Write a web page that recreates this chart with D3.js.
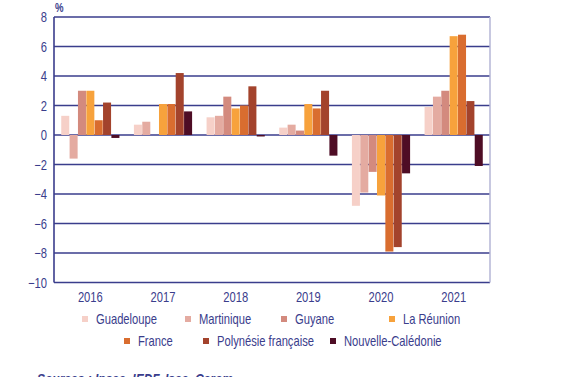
<!DOCTYPE html>
<html>
<head>
<meta charset="utf-8">
<script src="https://cdn.jsdelivr.net/npm/d3@7"></script>
<style>
  body { margin: 0; background: #fff; }
  svg { display: block; }
</style>
</head>
<body>
<div id="chart"></div>
<script>
const years = ["2016", "2017", "2018", "2019", "2020", "2021"];
const seriesNames = ["Guadeloupe", "Martinique", "Guyane", "La Réunion", "France", "Polynésie française", "Nouvelle-Calédonie"];
const guadeloupe = [1.3, 0.7, 1.2, 0.5, -4.8, 1.9];
const martinique = [-1.6, 0.9, 1.3, 0.7, -3.9, 2.6];
const guyane = [3.0, 0.0, 2.6, 0.3, -2.5, 3.0];
const reunion = [3.0, 2.1, 1.8, 2.1, -4.1, 6.7];
const france = [1.0, 2.1, 2.0, 1.8, -7.9, 6.8];
const polynesie = [2.2, 4.2, 3.3, 3.0, -7.6, 2.3];
const caledonie = [-0.2, 1.6, -0.1, -1.4, -2.6, -2.1];
const yTicks = [8, 6, 4, 2, 0, -2, -4, -6, -8, -10];
const colors = ["#f6d0c8", "#e4aba1", "#d38a7e", "#f7a23c", "#d96d2f", "#a3432c", "#4e0d25"];

const values = [guadeloupe, martinique, guyane, reunion, france, polynesie, caledonie];
const data = [];
years.forEach(function (y, i) {
    seriesNames.forEach(function (s, j) {
        data.push({ year: y, series: s, value: values[j][i] });
    });
});

const width = 565, height = 377;
const navy = "#3a3d8c";
const font = "'Liberation Sans', Arial, sans-serif";
const squeeze = 0.8;

const svg = d3.select("#chart").append("svg")
    .attr("width", width)
    .attr("height", height);

const x = d3.scaleBand().domain(years).range([54, 490]).paddingInner(0.19).paddingOuter(0.095);
const xs = d3.scaleBand().domain(seriesNames).range([0, x.bandwidth()]).padding(0.04);
const y = d3.scaleLinear().domain([-10, 8]).range([282.5, 17]);

// narrow text helper: places a horizontally squeezed label
function label(parent, tx, ty, txt, size, anchor) {
    const g = parent.append("g").attr("transform", "translate(" + tx + "," + ty + ")");
    g.append("text")
        .attr("transform", "scale(" + squeeze + ",1)")
        .attr("text-anchor", anchor || "start")
        .style("font-family", font)
        .style("font-size", size + "px")
        .attr("fill", navy)
        .text(txt);
    return g;
}

// grid lines
svg.append("g")
    .selectAll("line")
    .data(yTicks)
    .enter().append("line")
    .attr("x1", 54)
    .attr("x2", 490)
    .attr("y1", d => y(d))
    .attr("y2", d => y(d))
    .attr("stroke", navy)
    .attr("stroke-width", 1.6);

// right border
svg.append("line")
    .attr("x1", 490).attr("x2", 490)
    .attr("y1", y(8)).attr("y2", y(-10))
    .attr("stroke", "#b4b6d6")
    .attr("stroke-width", 1.5);

// bars
svg.append("g")
    .selectAll("rect")
    .data(data)
    .enter().append("rect")
    .attr("x", d => x(d.year) + xs(d.series))
    .attr("width", xs.bandwidth())
    .attr("y", d => y(Math.max(0, d.value)))
    .attr("height", d => Math.abs(y(d.value) - y(0)))
    .attr("fill", d => colors[seriesNames.indexOf(d.series)]);

// y axis line
svg.append("line")
    .attr("x1", 54).attr("x2", 54)
    .attr("y1", y(8)).attr("y2", y(-10))
    .attr("stroke", navy)
    .attr("stroke-width", 1.6);

const yLab = svg.append("g");
yTicks.forEach(function (t) {
    label(yLab, 47, y(t) + 5, d3.format("d")(t), 14, "end");
});

label(svg, 55, 12, "%", 12, "start").select("text").style("font-weight", "bold");

// x labels
const xLab = svg.append("g");
years.forEach(function (yr) {
    label(xLab, x(yr) + x.bandwidth() / 2, 302, yr, 14, "middle");
});

// legend
const legendPos = [
    [82, 319], [185, 319], [281, 319], [389, 319],
    [124, 341], [203, 341], [330, 341]
];
const legend = svg.append("g");
seriesNames.forEach(function (s, i) {
    legend.append("rect")
        .attr("x", legendPos[i][0]).attr("y", legendPos[i][1] - 3)
        .attr("width", 6).attr("height", 6)
        .attr("fill", colors[i]);
    label(legend, legendPos[i][0] + 14, legendPos[i][1] + 5, s, 14, "start");
});

label(svg, 37, 384, "Sources : Insee, IEDF, Isee, Cerom", 15, "start")
    .select("text").style("font-style", "italic").style("font-weight", "bold");
</script>
</body>
</html>
